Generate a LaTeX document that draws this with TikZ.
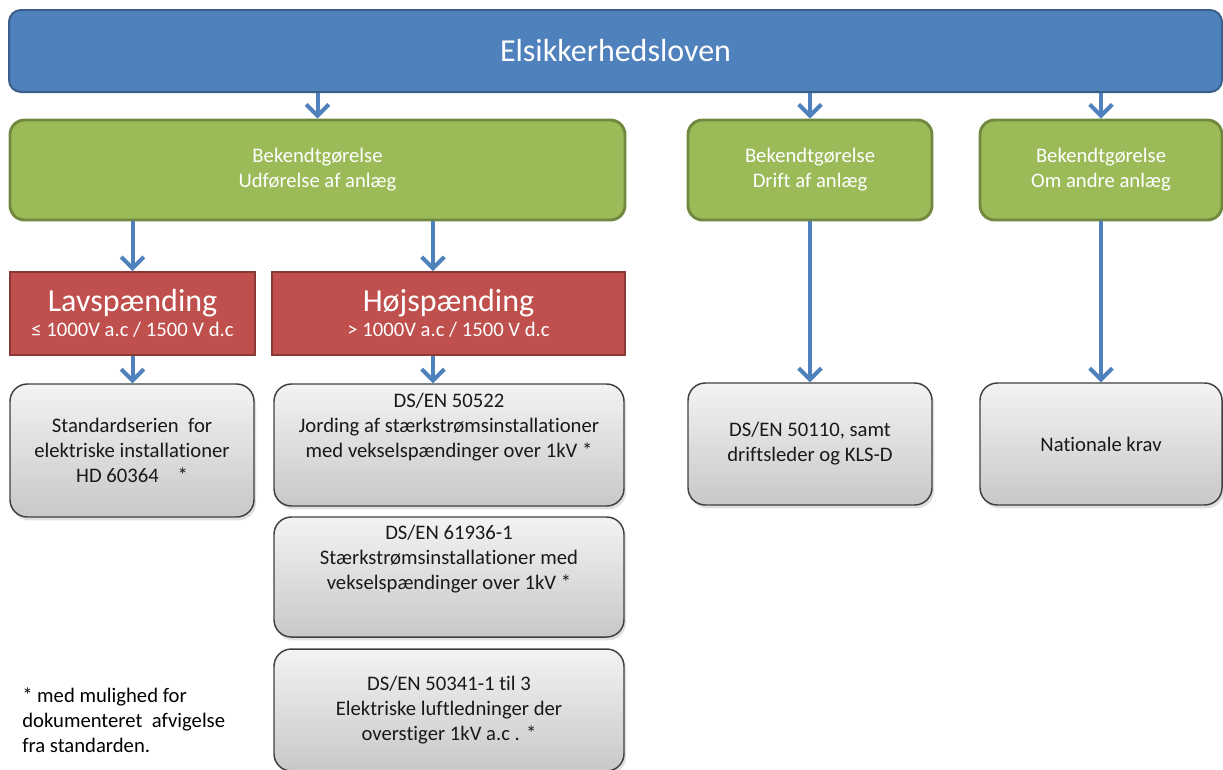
\documentclass[tikz,border=0pt]{standalone}
\usepackage{fontspec}
\setmainfont{Carlito}[Ligatures=NoCommon]
\usepackage{tikz}
\usetikzlibrary{arrows.meta, positioning, shadows}
\definecolor{lawblue}{HTML}{4F81BD}
\definecolor{lawblueline}{HTML}{3A5F8B}
\definecolor{bekgreen}{HTML}{9BBB59}
\definecolor{bekgreenline}{HTML}{71893F}
\definecolor{voltred}{HTML}{C0504D}
\definecolor{voltredline}{HTML}{8C3836}
\definecolor{stdtop}{HTML}{F3F3F3}
\definecolor{stdbottom}{HTML}{C8C8C8}
\newcommand{\px}{0.75pt}
\tikzset{
    lawbox/.style={draw=lawblueline, line width=1.5pt, fill=lawblue, rounded corners=9pt, text=white, font=\fontsize{24}{29}\selectfont},
    bekbox/.style={draw=bekgreenline, line width=2.2pt, fill=bekgreen, rounded corners=11pt, text=white, align=center, font=\fontsize{15.5}{18.75}\selectfont},
    voltbox/.style={draw=voltredline, line width=1.5pt, fill=voltred, text=white, align=center},
    stdbox/.style={draw=black!75, line width=1.1pt, top color=stdtop, bottom color=stdbottom, rounded corners=13pt, align=center, text=black!90, font=\fontsize{15.5}{18.75}\selectfont, drop shadow={opacity=0.25, shadow xshift=1.5pt, shadow yshift=-2.5pt}},
    flow/.style={draw=lawblue, line width=3pt, -{Straight Barb[length=8.5pt, width=17pt]}},
}
\begin{document}
\begin{tikzpicture}[x=0.75pt, y=-0.75pt]
    \useasboundingbox (0,0) rectangle (1223,769);
    % law
    \node[lawbox, minimum width=1213*\px, minimum height=82*\px] (law) at (615.5,51) {Elsikkerhedsloven};
    % bekendtgoerelser
    \node[bekbox, minimum width=615*\px, minimum height=100*\px] (udf) at (317.5,170) {Bekendtgørelse\\Udførelse af anlæg};
    \node[bekbox, minimum width=244*\px, minimum height=100*\px] (drift) at (810,170) {Bekendtgørelse\\Drift af anlæg};
    \node[bekbox, minimum width=242*\px, minimum height=100*\px] (andre) at (1101,170) {Bekendtgørelse\\Om andre anlæg};
    % spaendingsniveauer
    \node[voltbox, minimum width=245*\px, minimum height=83*\px] (lav) at (132.5,313.5)
        {{\fontsize{24}{24}\selectfont Lavspænding}\\[3pt]{\fontsize{15.5}{18}\selectfont ≤ 1000V a.c / 1500 V d.c}};
    \node[voltbox, minimum width=353*\px, minimum height=83*\px] (hoj) at (448.5,313.5)
        {{\fontsize{24}{24}\selectfont Højspænding}\\[3pt]{\fontsize{15.5}{18}\selectfont > 1000V a.c / 1500 V d.c}};
    % standarder
    \node[stdbox, minimum width=244*\px, minimum height=133*\px] (hd) at (132,450.5)
        {Standardserien\ \ for\\elektriske installationer\\HD 60364\ \ \ \ *};
    \node[stdbox, minimum width=350*\px, minimum height=122*\px] (en1) at (449,445)
        {DS/EN 50522\\Jording af stærkstrømsinstallationer\\med vekselspændinger over 1kV *\\[5pt]\strut};
    \node[stdbox, minimum width=350*\px, minimum height=120*\px] (en2) at (449,577)
        {DS/EN 61936-1\\Stærkstrømsinstallationer med\\vekselspændinger over 1kV *\\[5pt]\strut};
    \node[stdbox, minimum width=350*\px, minimum height=122*\px] (en3) at (449,710)
        {DS/EN 50341-1 til 3\\Elektriske luftledninger der\\overstiger 1kV a.c . *};
    \node[stdbox, minimum width=244*\px, minimum height=122*\px] (en4) at (810,444)
        {DS/EN 50110, samt\\driftsleder og KLS-D};
    \node[stdbox, minimum width=242*\px, minimum height=122*\px] (nat) at (1101,444) {Nationale krav};
    % fodnote
    \node[anchor=west, align=left, inner sep=0pt, font=\fontsize{15.5}{18.75}\selectfont] (note) at (22,720)
        {* med mulighed for\\dokumenteret\ \ afvigelse\\fra standarden.};
    % pile
    \draw[flow] (law.south -| udf.north) -- (udf.north);
    \draw[flow] (law.south -| drift.north) -- (drift.north);
    \draw[flow] (law.south -| andre.north) -- (andre.north);
    \draw[flow] (udf.south -| lav.north) -- (lav.north);
    \draw[flow] ([xshift=-15.5*\px]hoj.north |- udf.south) -- ([xshift=-15.5*\px]hoj.north);
    \draw[flow] (lav.south) -- (lav.south |- hd.north);
    \draw[flow] ([xshift=-15.5*\px]hoj.south) -- ([xshift=-15.5*\px]hoj.south |- en1.north);
    \draw[flow] (drift.south) -- (en4.north);
    \draw[flow] (andre.south) -- (nat.north);
\end{tikzpicture}
\end{document}
